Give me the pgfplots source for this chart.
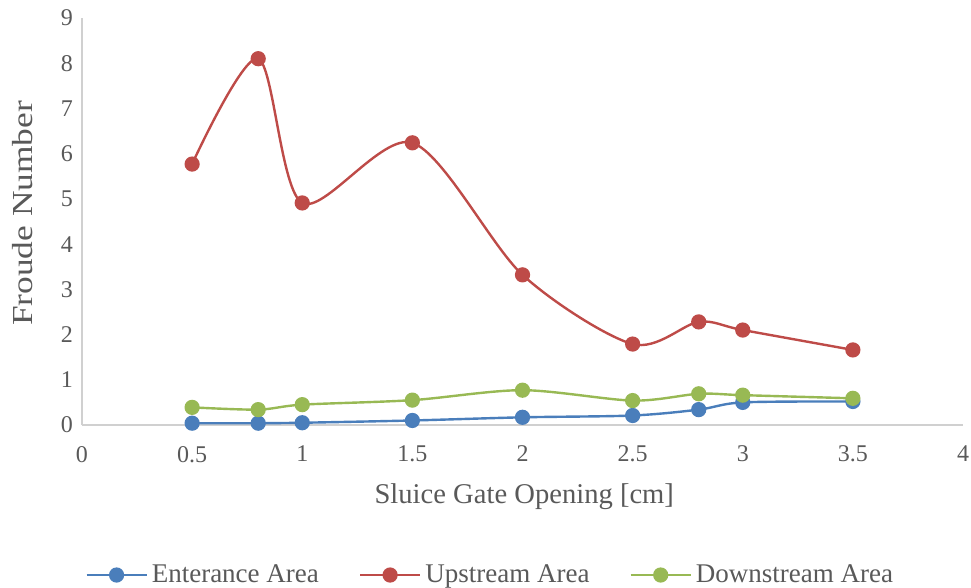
\documentclass[border=0pt]{standalone}
\usepackage{pgfplots}
\pgfplotsset{compat=1.18}
\usepackage{fontspec}
\setmainfont{Liberation Serif}
\newfontfamily\ylabfont{Liberation Serif}[FakeStretch=1.22]
\definecolor{txt}{HTML}{595959}
\definecolor{axl}{HTML}{D0D0D0}
\definecolor{sblue}{HTML}{4A7EBB}
\definecolor{sred}{HTML}{BE4B48}
\definecolor{sgreen}{HTML}{98B954}
\begin{document}
\begin{tikzpicture}
\begin{axis}[
  scale only axis,
  width=440.5pt, height=203.5pt,
  xmin=0, xmax=4, ymin=0, ymax=9,
  xtick={0,0.5,...,4}, ytick={0,1,...,9},
  axis x line*=bottom, axis y line*=left,
  axis line style={draw=axl, line width=0.8pt, -},
  major tick length=0pt,
  /pgf/number format/assume math mode=true,
  tick label style={font=\fontsize{12}{14}\selectfont, text=txt},
  xticklabel style={yshift=-7pt},
  yticklabel style={xshift=-1pt},
  xlabel={Sluice Gate Opening [cm]},
  ylabel={Froude Number},
  xlabel style={at={(axis description cs:0.502,-0.177)}, anchor=center, font=\fontsize{14.3}{16}\selectfont, text=txt},
  ylabel style={at={(axis description cs:-0.068,0.52)}, anchor=center, rotate=0, font=\ylabfont\fontsize{14.5}{16}\selectfont, text=txt},
  legend columns=3,
  legend style={at={(axis description cs:0.4645,-0.3686)}, anchor=center, draw=none, fill=none,
    font=\fontsize{13.5}{15}\selectfont, text=txt,
    /tikz/every even column/.append style={column sep=18pt}},
  legend image code/.code={\draw[mark repeat=2,mark phase=2,#1] plot coordinates {(0pt,0pt) (15pt,0pt) (30pt,0pt)};},
  every axis plot/.append style={smooth, line width=1.2pt, mark=*, mark size=3.2pt},
]
\addplot[color=sblue, mark options={fill=sblue, draw=sblue}] coordinates {
(0.5,0.04) (0.8,0.04) (1,0.05) (1.5,0.1) (2,0.17) (2.5,0.21) (2.8,0.34) (3,0.5) (3.5,0.52)};
\addlegendentry{Enterance Area}
\addplot[color=sred, mark options={fill=sred, draw=sred}] coordinates {
(0.5,5.77) (0.8,8.1) (1,4.91) (1.5,6.24) (2,3.32) (2.5,1.79) (2.8,2.28) (3,2.1) (3.5,1.66)};
\addlegendentry{Upstream Area}
\addplot[color=sgreen, mark options={fill=sgreen, draw=sgreen}] coordinates {
(0.5,0.39) (0.8,0.34) (1,0.45) (1.5,0.55) (2,0.77) (2.5,0.54) (2.8,0.69) (3,0.66) (3.5,0.59)};
\addlegendentry{Downstream Area}
\end{axis}
\pgfresetboundingbox
\path ([shift={(-41pt,-81pt)}]current axis.south west) rectangle ([shift={(4pt,9pt)}]current axis.north east);
\end{tikzpicture}
\end{document}
